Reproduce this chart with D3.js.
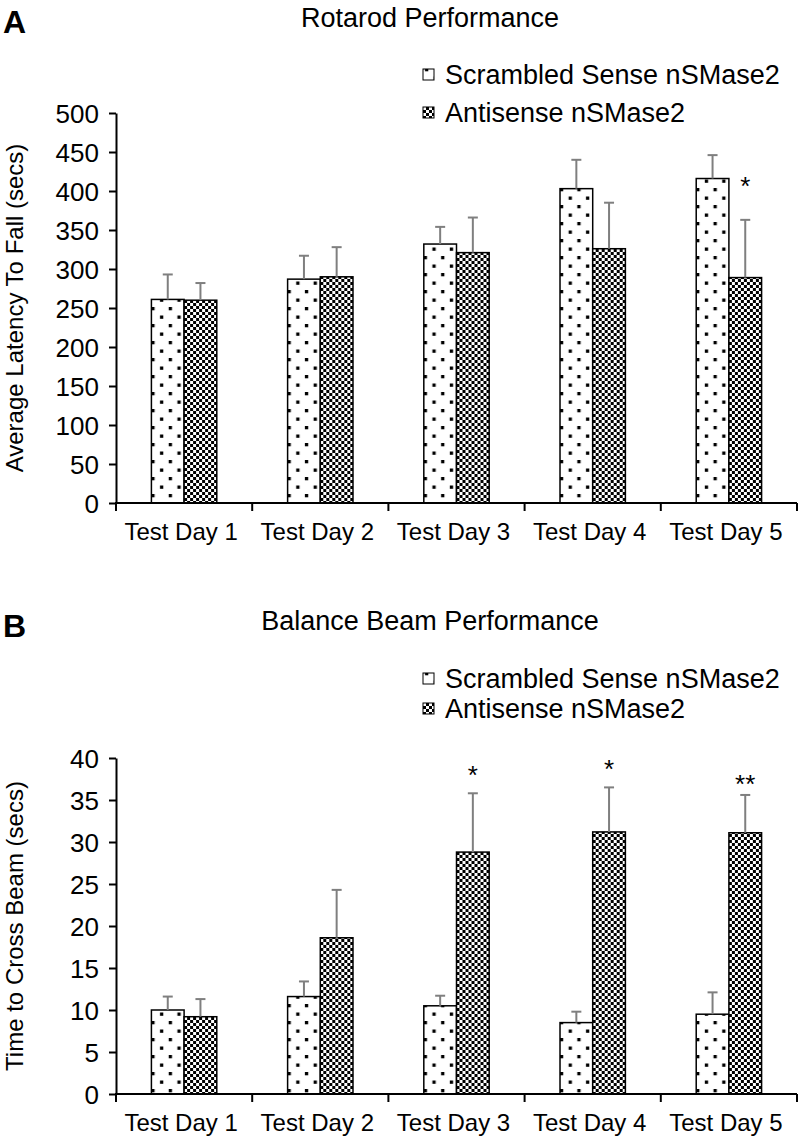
<!DOCTYPE html>
<html>
<head>
<meta charset="utf-8">
<script src="https://cdn.jsdelivr.net/npm/d3@7"></script>
<style>
  body { margin: 0; background: #fff; }
  text { font-family: "Liberation Sans", Arial, sans-serif; fill: #000; }
</style>
</head>
<body>
<div id="my_viz"></div>
<script>
var width = 799,
    height = 1140;

// shared categories / series
var days = ["Test Day 1", "Test Day 2", "Test Day 3", "Test Day 4", "Test Day 5"];
var seriesNames = ["Scrambled Sense nSMase2", "Antisense nSMase2"];

// A: rotarod (secs)
var rotarodScrambled = [261, 287, 332, 403, 416];
var rotarodScrambledErr = [32, 30, 22, 37, 30];
var rotarodAntisense = [260, 290, 321, 326, 289];
var rotarodAntisenseErr = [22, 38, 45, 59, 74];
var rotarodTicks = [0, 50, 100, 150, 200, 250, 300, 350, 400, 450, 500];
var rotarodSig = ["", "", "", "", "*"];
var rotarodSigLevel = [0, 0, 0, 0, 414];

// B: balance beam (secs)
var beamScrambled = [10.0, 11.6, 10.5, 8.5, 9.5];
var beamScrambledErr = [1.6, 1.8, 1.2, 1.3, 2.6];
var beamAntisense = [9.2, 18.6, 28.8, 31.2, 31.1];
var beamAntisenseErr = [2.1, 5.7, 7.0, 5.3, 4.5];
var beamTicks = [0, 5, 10, 15, 20, 25, 30, 35, 40];
var beamSig = ["", "", "*", "*", "**"];
var beamSigLevel = [0, 0, 38.7, 39.4, 37.6];

var svg = d3.select("#my_viz")
    .append("svg")
    .attr("width", width)
    .attr("height", height)
    .style("background", "white");

// fill patterns: dotted for scrambled, checkerboard for antisense
var defs = svg.append("defs");

var dots = defs.append("pattern")
    .attr("id", "dots")
    .attr("patternUnits", "userSpaceOnUse")
    .attr("width", 17.4)
    .attr("height", 17)
    .attr("x", 151)
    .attr("y", 0);
dots.append("rect").attr("width", 17.4).attr("height", 17).attr("fill", "white");
dots.append("rect").attr("x", 7.6).attr("y", 1).attr("width", 3.3).attr("height", 3.3).attr("fill", "black");
dots.append("rect").attr("x", 16.3).attr("y", 9.5).attr("width", 3.3).attr("height", 3.3).attr("fill", "black");
dots.append("rect").attr("x", -1.1).attr("y", 9.5).attr("width", 3.3).attr("height", 3.3).attr("fill", "black");

var checks = defs.append("pattern")
    .attr("id", "checks")
    .attr("patternUnits", "userSpaceOnUse")
    .attr("width", 6)
    .attr("height", 6);
checks.append("rect").attr("width", 6).attr("height", 6).attr("fill", "white");
checks.append("rect").attr("width", 3).attr("height", 3).attr("fill", "black");
checks.append("rect").attr("x", 3).attr("y", 3).attr("width", 3).attr("height", 3).attr("fill", "black");

var fills = ["url(#dots)", "url(#checks)"];

function drawPanel(p) {
    var g = svg.append("g");

    var x = d3.scaleBand().domain(days).range([116, 797]);
    var y = d3.scaleLinear().domain([0, p.ticks[p.ticks.length - 1]]).range(p.yRange);
    var barW = x.bandwidth() * 0.24;

    var rows = days.map(function (d, i) {
        return {
            day: d,
            vals: [
                { s: 0, v: p.scr[i], e: p.scrErr[i] },
                { s: 1, v: p.anti[i], e: p.antiErr[i] }
            ],
            sig: p.sig[i],
            sigAt: p.sigAt[i]
        };
    });

    var groups = g.selectAll(".day").data(rows).enter()
        .append("g")
        .attr("transform", function (d) {
            return "translate(" + (x(d.day) + x.bandwidth() / 2) + ",0)";
        });

    var bars = groups.selectAll(".bar").data(function (d) { return d.vals; }).enter();

    bars.append("rect")
        .attr("x", function (d) { return d.s === 0 ? -barW : 0; })
        .attr("y", function (d) { return y(d.v); })
        .attr("width", barW)
        .attr("height", function (d) { return y(0) - y(d.v); })
        .attr("fill", function (d) { return fills[d.s]; })
        .attr("stroke", "black")
        .attr("stroke-width", 1.5);

    // upper error bars
    bars.append("line")
        .attr("x1", function (d) { return d.s === 0 ? -barW / 2 : barW / 2; })
        .attr("x2", function (d) { return d.s === 0 ? -barW / 2 : barW / 2; })
        .attr("y1", function (d) { return y(d.v); })
        .attr("y2", function (d) { return y(d.v + d.e); })
        .attr("stroke", "#7f7f7f")
        .attr("stroke-width", 2);
    bars.append("line")
        .attr("x1", function (d) { return (d.s === 0 ? -barW / 2 : barW / 2) - 5; })
        .attr("x2", function (d) { return (d.s === 0 ? -barW / 2 : barW / 2) + 5; })
        .attr("y1", function (d) { return y(d.v + d.e); })
        .attr("y2", function (d) { return y(d.v + d.e); })
        .attr("stroke", "#7f7f7f")
        .attr("stroke-width", 2);

    groups.filter(function (d) { return d.sig; })
        .append("text")
        .attr("x", barW / 2)
        .attr("y", function (d) { return y(d.sigAt) + 15; })
        .attr("text-anchor", "middle")
        .attr("font-size", 26)
        .text(function (d) { return d.sig; });

    // y axis
    var yAxis = g.append("g")
        .attr("transform", "translate(116,0)")
        .call(d3.axisLeft(y).tickValues(p.ticks).tickSize(7).tickSizeOuter(0).tickPadding(10));
    yAxis.selectAll("text").attr("font-size", 26).attr("font-family", null).attr("dy", "0.36em");
    yAxis.selectAll("line, path").attr("stroke", "black").attr("stroke-width", 2);

    // x axis: line, ticks at category boundaries, labels centered
    var xAxis = g.append("g").attr("transform", "translate(0," + y(0) + ")");
    xAxis.append("line")
        .attr("x1", 115).attr("x2", 797)
        .attr("stroke", "black").attr("stroke-width", 2);
    xAxis.selectAll(".tick").data(days.concat(["end"])).enter()
        .append("line")
        .attr("x1", function (d) { return d === "end" ? 797 : x(d); })
        .attr("x2", function (d) { return d === "end" ? 797 : x(d); })
        .attr("y1", 0).attr("y2", 8)
        .attr("stroke", "black").attr("stroke-width", 2);
    xAxis.selectAll(".lab").data(days).enter()
        .append("text")
        .attr("x", function (d) { return x(d) + x.bandwidth() / 2 - 3; })
        .attr("y", 37)
        .attr("text-anchor", "middle")
        .attr("font-size", 24)
        .text(function (d) { return d; });

    // axis title
    g.append("text")
        .attr("transform", "translate(23," + (p.yRange[0] + p.yRange[1]) / 2 + ") rotate(-90)")
        .attr("text-anchor", "middle")
        .attr("font-size", 24)
        .text(p.yTitle);

    // chart title and panel letter
    g.append("text")
        .attr("x", 430).attr("y", p.titleY)
        .attr("text-anchor", "middle")
        .attr("font-size", 27)
        .text(p.title);
    g.append("text")
        .attr("x", 3).attr("y", p.letterY)
        .attr("font-size", 32).attr("font-weight", "bold")
        .text(p.letter);

    // legend
    var legend = g.selectAll(".legends").data(seriesNames).enter()
        .append("g")
        .attr("transform", function (d, i) { return "translate(423," + p.legendY[i] + ")"; });
    legend.append("rect")
        .attr("x", 0).attr("y", -15)
        .attr("width", 11).attr("height", 11)
        .attr("fill", function (d, i) { return fills[i]; })
        .attr("stroke", "black").attr("stroke-width", 1);
    legend.append("text")
        .attr("x", 22).attr("y", 0)
        .attr("font-size", 27)
        .text(function (d) { return d; });
}

drawPanel({
    letter: "A", letterY: 33,
    title: "Rotarod Performance", titleY: 27,
    legendY: [84, 122],
    yTitle: "Average Latency To Fall (secs)",
    yRange: [503, 113], ticks: rotarodTicks,
    scr: rotarodScrambled, scrErr: rotarodScrambledErr,
    anti: rotarodAntisense, antiErr: rotarodAntisenseErr,
    sig: rotarodSig, sigAt: rotarodSigLevel
});

drawPanel({
    letter: "B", letterY: 637,
    title: "Balance Beam Performance", titleY: 630,
    legendY: [688, 718],
    yTitle: "Time to Cross Beam (secs)",
    yRange: [1094, 758], ticks: beamTicks,
    scr: beamScrambled, scrErr: beamScrambledErr,
    anti: beamAntisense, antiErr: beamAntisenseErr,
    sig: beamSig, sigAt: beamSigLevel
});
</script>
</body>
</html>
